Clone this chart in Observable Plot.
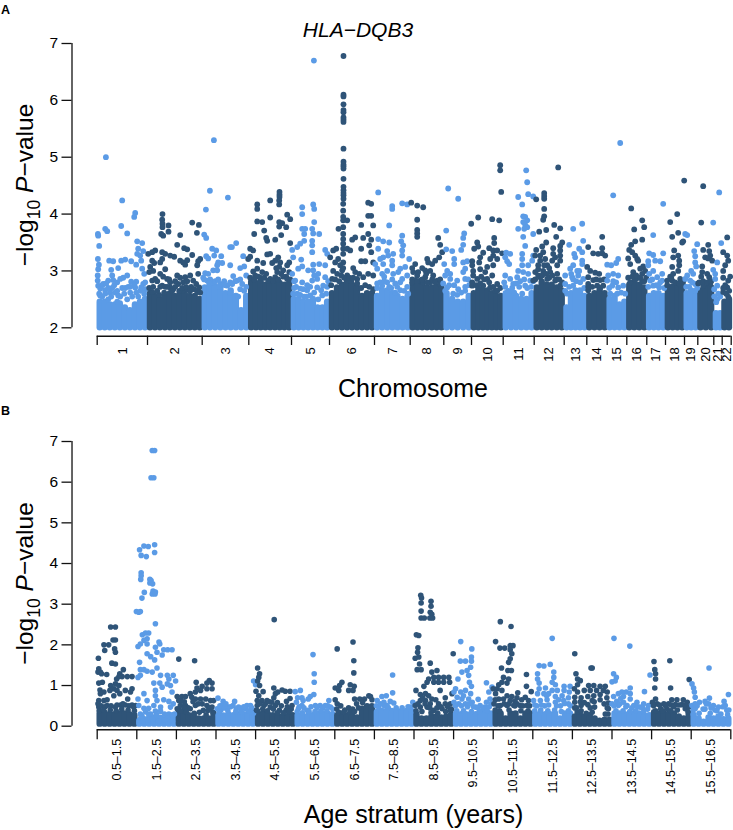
<!DOCTYPE html>
<html><head><meta charset="utf-8">
<script src="https://cdn.jsdelivr.net/npm/d3@7"></script>
<script src="https://cdn.jsdelivr.net/npm/@observablehq/plot@0.6"></script>
<style>html,body{margin:0;padding:0;background:#fff}svg{display:block}</style>
</head><body><div id="a"></div><div id="b"></div>
<script>
const LIGHT="#5b9be6", DARK="#2f5478";
const chromosomes=["1","2","3","4","5","6","7","8","9","10","11","12","13","14","15","16","17","18","19","20","21","22"];
const chromEdges=[0,50.3,105,151.6,194.3,232.3,277.3,313,346.6,374.3,406,437,467,489.6,510,529.6,549.6,568.3,587.3,600.6,616.6,625,634];
const chromBand=[
[2.45,2.45,2.4,2.4,2.42,2.35,2.3,2.4,2.45,2.5],
[2.6,2.55,2.5,2.55,2.6,2.55,2.6,2.6,2.55,2.55,2.5],
[2.7,2.75,2.72,2.7,2.6,2.65,2.55,2.3,2.55],
[2.8,2.78,2.8,2.75,2.78,2.8,2.78,2.75,2.78],
[2.5,2.5,2.45,2.45,2.5,2.35,2.35,2.45],
[2.6,2.7,2.75,2.8,2.75,2.7,2.55,2.6,2.6],
[2.55,2.65,2.65,2.6,2.55,2.5,2.55],
[2.75,2.75,2.75,2.7,2.7,2.72,2.7],
[2.6,2.5,2.45,2.45,2.55],
[2.6,2.65,2.65,2.65,2.6,2.55,2.55],
[2.6,2.6,2.55,2.5,2.5,2.6],
[2.7,2.8,2.75,2.75,2.7,2.65],
[2.35,2.6,2.65,2.65,2.55],
[2.55,2.6,2.65,2.6],
[2.5,2.55,2.4,2.45],
[2.75,2.8,2.75,2.7],
[2.55,2.6,2.6,2.55],
[2.7,2.72,2.72,2.72],
[2.6,2.65,2.6],
[2.65,2.7,2.7],
[2.25,2.25],
[2.45,2.5]];
const chr1=[[8.7,5],[.7,3.65],[1,3.62],[2,3.44],[.7,3.21],[1.7,3.11],[1,3.03],[8,3.74],[10,3.7],[12,3.18],[16,3.17],[21,3.05],[14,3.02],[15,2.92],[25,4.24],[24,3.79],[30,3.66],[38,4.02],[37,3.95],[40,3.52],[45,3.49],[41,3.39],[46,3.35],[40,3.3],[43,3.27],[34,3.17],[24,3.18],[28,3.2],[44,3.18],[39,3.11],[45,3.04],[47,2.95],[.5,2.92],[.5,2.83],[1,2.74],[6,2.77],[11,2.83],[16,2.84],[20,2.8],[26,2.88],[30,2.92],[23,2.86],[15,2.7],[13,2.62],[18,2.62],[21,2.57],[25,2.7],[28,2.7],[30,2.5],[34,2.81],[39,2.81],[38,2.71],[39,2.62],[46,2.77],[48,2.8],[44,2.71],[48,2.68],[3,2.69],[8,2.66],[3,2.57],[11,2.5],[20,2.46],[33,2.62]];
const chr2=[[65.3,4],[65,3.9],[65.3,3.83],[65.3,3.77],[71.3,3.8],[71.3,3.69],[64,3.65],[66,3.62],[83,3.63],[80,3.46],[87,3.4],[90,3.38],[95,3.85],[101.7,3.81],[99.7,3.67],[95,3.28],[103,3.21],[101,3.17],[100,3.1],[101,2.95],[51,3.3],[55,3.33],[58,3.36],[65,3.33],[68,3.3],[73,3.27],[77,3.25],[65,3.21],[63,3.15],[55,3.18],[57,3.14],[53,3.07],[52,2.98],[56,3],[68,3.03],[83,3.18],[86,3.15],[90,3.19],[88,3.11],[55,2.83],[58,2.86],[63,2.95],[66,2.9],[70,2.86],[73,2.8],[80,2.92],[83,2.88],[88,2.89],[93,2.92],[96,2.83],[99,2.77],[65,2.74],[73,2.71],[81,2.77],[86,2.8],[91,2.68],[102,2.71],[100,2.63],[55,2.63],[68,2.72],[62,2.58],[78,2.82],[76,2.68],[86,2.66],[94,2.72]];
const chr3=[[116.7,5.3],[112.7,4.41],[130.7,4.29],[108.7,4.08],[107,3.64],[109,3.58],[134.7,3.42],[139,3.49],[133,3.42],[115,3.39],[119,3.36],[109,3.26],[111,3.22],[117,3.27],[124,3.26],[121,3.15],[125,3.14],[120,3.1],[133,3.1],[143,3.05],[147,3.08],[146,3.26],[116,3.01],[120,3.01],[108,2.96],[111,2.95],[106,2.88],[136,2.91],[149,2.92],[110,2.83],[116,2.8],[123,2.77],[130,2.74],[135,2.77],[140,2.83],[145,2.77],[149,2.72],[143,2.68],[133,2.62],[141,2.55]];
const chr4=[[182.3,4.39],[182.3,4.34],[182.3,4.3],[182,4.24],[182,4.17],[173,4.24],[160,4.17],[160,4.09],[173,3.94],[190,3.99],[193,3.91],[160,3.87],[165,3.86],[182,3.86],[185,3.84],[189,3.77],[182,3.78],[167,3.71],[157,3.65],[184,3.63],[169,3.58],[170,3.53],[178,3.55],[193,3.49],[153,3.39],[156,3.36],[151,3.21],[160,3.18],[166,3.14],[170,3.29],[173,3.3],[181,3.24],[178,3.18],[175,3.14],[183,3.15],[192,3.15],[190,3.1],[182,3.07],[180,2.98],[186,3.01],[192,2.98],[160,3.04],[156,2.99],[165,2.98],[158,2.92],[163,2.88],[173,2.86],[178,2.89],[184,2.95],[189,2.9],[153,3.25],[179,3.05]];
const chr5=[[216.7,6.7],[205,4.12],[205,4],[216,4.17],[217,4.09],[217,3.86],[205,3.74],[208,3.74],[215,3.74],[207,3.65],[216,3.66],[222,3.65],[215,3.53],[207,3.53],[203,3.48],[200,3.42],[195,3.37],[215,3.45],[215,3.33],[196,3.24],[204,3.2],[228,3.37],[230,3.3],[216,3.11],[222,3.12],[228,3.1],[205,3.08],[201,3.04],[211,3.01],[216,3.01],[221,2.95],[195,2.95],[205,2.8],[198,2.83],[215,2.83],[220,2.86],[228,2.89],[197,2.7],[203,2.69],[210,2.66],[220,2.71],[226,2.74],[200,2.6],[213,2.57],[225,2.57],[207,2.55],[217,2.92],[230,2.72]];
const chr6=[[246.3,6.78],[246.3,6.1],[246.3,6.07],[246.3,5.93],[246.3,5.83],[246.3,5.79],[246.3,5.7],[246.3,5.66],[246.3,5.62],[246.3,5.15],[246.3,4.92],[246.3,4.87],[246.3,4.84],[246.3,4.8],[246.3,4.62],[246.3,4.48],[246.3,4.42],[246.3,4.37],[246.3,4.33],[246.3,4.27],[246,4.18],[246,4.06],[246,3.95],[250,3.89],[246,3.89],[246,3.77],[246,3.65],[246,3.56],[246,3.48],[246,3.39],[246,3.3],[241.3,3.74],[239,3.39],[236,3.36],[233,3.24],[241,3.21],[238,3.15],[246,3.15],[250,3.39],[253,3.36],[255,3.55],[258,3.59],[264,3.81],[264,3.39],[266,3.58],[271,3.65],[271,4.2],[271,3.97],[272,3.45],[256,3.05],[264,3.17],[268,3.17],[236,3],[235,2.86],[240,2.95],[245,3.01],[250,2.92],[260,2.86],[266,2.89],[271,2.95],[274,4.18],[274,3.97],[276,3.8],[274,3.33],[276,3.15],[276,2.92],[246,3.05],[243,3.1],[274,3.55],[258,2.98],[254,2.82]];
const chr7=[[281,4.38],[305,4.19],[310,4.17],[295,4.09],[295,4.14],[292,3.8],[305,3.62],[281,3.56],[286,3.52],[292,3.5],[304,3.52],[306,3.45],[281,3.39],[290,3.35],[305,3.36],[305,3.27],[312,3.21],[291,3.27],[296,3.3],[286,3.24],[283,3.21],[295,3.18],[278,3.12],[286,3.12],[295,3.1],[308,3.07],[303,3.04],[280,3.04],[290,3],[296,2.95],[301,2.98],[310,2.92],[285,2.95],[305,2.86],[280,2.78],[290,2.8],[298,2.78],[310,2.72],[285,2.74],[294,2.7],[303,2.66]];
const chr8=[[314,4.2],[320,4.15],[326,4.12],[320,3.9],[320,3.72],[320,3.66],[320,3.6],[341,3.58],[343,3.46],[345,3.33],[342,3.24],[338,3.18],[330,3.21],[331,3.15],[335,3.12],[318,3.12],[315,3.05],[325,3.05],[328,3.01],[333,3],[316,2.98],[320,2.92],[318,2.84],[323,2.83],[328,2.89],[336,2.92],[340,2.83],[333,2.8],[343,2.77],[315,2.85],[326,2.8]];
const chr9=[[351,4.45],[361,4.27],[349,3.71],[367,3.66],[366,3.58],[366,3.46],[349,3.38],[355,3.35],[364,3.37],[366,3.15],[357,3.21],[357,3.12],[347,3.12],[370,3.17],[350,3],[353,2.95],[348,2.92],[368,3.04],[366,2.98],[353,2.86],[360,2.83],[368,2.86],[361,2.68],[350,2.71],[368,2.72],[346,2.78],[372,2.75]];
const chr10=[[403,4.86],[403,4.77],[404,4.39],[374,3.83],[381,3.94],[395,3.91],[402,3.89],[397,3.58],[397,3.49],[380,3.5],[381,3.43],[377,3.39],[392,3.4],[396,3.36],[400,3.36],[405,3.31],[386,3.32],[383,3.24],[396,3.27],[393,3.21],[400,3.21],[375,3.17],[382,3.15],[396,3.1],[390,3.07],[375,3.1],[376,3],[383,3.03],[388,2.98],[395,2.92],[376,2.92],[380,2.86],[390,2.86],[386,2.74],[400,2.77],[375,2.74],[393,2.71],[381,2.71],[398,2.66]];
const chr11=[[429,4.77],[430,4.56],[421,4.3],[431,4.35],[436,4.31],[425,4.17],[426,3.96],[428,3.95],[430,3.89],[426,3.86],[428,3.81],[430,3.77],[421,3.74],[427,3.74],[426,3.6],[436,3.65],[428,3.44],[425,3.3],[425,3.21],[409,3.32],[413,3.3],[408,3.24],[410,3.17],[412,3.12],[436,3.27],[435,3.18],[431,3.1],[425,3.1],[408,2.92],[421,3],[426,2.98],[431,2.95],[420,2.89],[413,2.86],[416,2.77],[433,2.83],[428,2.74],[407,2.8],[422,2.72]];
const chr12=[[461,4.82],[447,4.37],[447,4.32],[447,4.27],[439,4.26],[447,4.09],[447,3.96],[446,3.9],[457,3.81],[463,3.75],[449,3.72],[442,3.69],[459,3.6],[449,3.5],[465,3.5],[463,3.44],[445,3.43],[439,3.37],[456,3.4],[463,3.36],[463,3.27],[463,3.18],[446,3.33],[438,3.27],[443,3.27],[456,3.3],[443,3.18],[448,3.21],[455,3.18],[458,3.24],[450,3.1],[441,3.1],[460,3.1],[438,2.98],[446,3],[453,2.98],[460,2.95],[436,2.83],[443,2.89],[450,2.86],[458,2.83],[463,2.74],[441,3.03],[452,3.05]];
const chr13=[[476,3.74],[485,3.83],[486,3.53],[472,3.46],[477,3.3],[482,3.39],[485,3.33],[478,3.24],[485,3.18],[485,3.12],[476,3.1],[473,3.04],[480,3],[468,2.92],[475,2.89],[481,2.92],[486,2.86],[468,2.77],[476,2.74],[470,2.6]];
const chr14=[[505,3.6],[491,3.42],[505,3.4],[496,3.31],[501,3.3],[505,3.31],[508,3.27],[490,3.07],[493,3],[498,2.97],[502,2.95],[491,2.89],[496,2.84],[503,2.84],[491,2.77],[491,2.66],[500,2.74],[506,2.74]];
const chr15=[[523,5.25],[516,4.33],[510,3.11],[514,3.1],[521,3.21],[519,3.14],[511,2.92],[516,2.95],[521,2.92],[519,2.8],[510,2.83],[515,2.74],[521,2.71],[526,2.74]];
const chr16=[[534,4.1],[545,3.89],[547,3.77],[537,3.73],[545,3.55],[538,3.52],[534,3.46],[532,3.37],[535,3.33],[538,3.27],[531,3.22],[540,3.21],[541,3.18],[533,3.12],[546,3.08],[543,3.04],[548,3],[536,2.98],[545,2.95],[541,2.88],[533,2.8],[538,2.85],[545,2.81]];
const chr17=[[566,4.18],[556,3.63],[566,3.31],[552,3.31],[556,3.28],[551,3.17],[558,3.18],[563,3.17],[551,3.1],[556,3],[552,2.95],[565,2.95],[560,2.89],[553,2.83],[565,2.83],[556,2.74],[562,2.71]];
const chr18=[[587,4.59],[580,4],[573,3.86],[581,3.67],[575,3.6],[585,3.5],[586,3.52],[577,3.36],[576,3.24],[581,3.27],[582,3.18],[582,3.1],[575,3.07],[581,3],[573,2.9],[583,2.86],[570,2.83],[575,2.83],[586,2.75]];
const chr19=[[588,3.65],[590,3.63],[600,3.47],[597,3.35],[598,3.26],[598,3.15],[599,3.08],[594,3],[590,2.92],[596,2.95],[588,2.86],[593,2.83],[598,2.77]];
const chr20=[[606,4.49],[604,3.85],[611,3.46],[606,3.37],[612,3.35],[613,3.27],[608,3.24],[611,3.22],[615,3.18],[605,3.08],[605,2.98],[610,2.95],[612,2.89],[601,2.78],[606,2.74],[613,2.77]];
const chr21=[[622,4.38],[616,3.85],[624,3.49],[620,3.15],[616,3.02],[618,2.95],[618,2.86],[620,2.74],[621,2.6],[617,2.68],[619,2.45]];
const chr22=[[630,3.59],[626,3.33],[630,3.27],[631,3.18],[628,3.1],[626,3],[626,2.88],[631,2.83],[630,2.71],[626,2.63],[631,2.55]];
const chromPoints=[chr1,chr2,chr3,chr4,chr5,chr6,chr7,chr8,chr9,chr10,chr11,chr12,chr13,chr14,chr15,chr16,chr17,chr18,chr19,chr20,chr21,chr22];
const chromFill=[
[[2,2.6],[5,2.55],[8,2.6],[11,2.7],[14,2.55],[17,2.75],[20,2.65],[23,2.55],[27,2.6],[31,2.72],[35,2.55],[37,2.75],[41,2.55],[43,2.65],[47,2.6],[5,2.75],[9,2.78],[33,2.72]],
[[52,2.7],[56,2.72],[60,2.65],[63,2.72],[67,2.62],[70,2.72],[75,2.65],[78,2.72],[82,2.65],[85,2.7],[89,2.72],[93,2.65],[97,2.68],[103,2.62],[72,2.85],[90,2.82],[60,2.82]],
[[107,2.85],[113,2.85],[118,2.82],[121,2.85],[127,2.82],[133,2.8],[138,2.82],[143,2.85],[147,2.65],[122,2.72],[128,2.75],[112,2.78]],
[[153,2.88],[157,2.85],[161,2.9],[167,2.88],[171,2.83],[176,2.82],[181,2.85],[186,2.9],[190,2.86],[193,2.85],[169,2.95]],
[[196,2.6],[199,2.72],[203,2.58],[206,2.68],[209,2.55],[213,2.72],[217,2.62],[221,2.5],[224,2.66],[229,2.6],[231,2.82],[197,2.82],[210,2.75]],
[[234,2.75],[238,2.85],[242,2.82],[247,2.88],[252,2.88],[256,2.88],[260,2.78],[264,2.7],[268,2.75],[272,2.72],[276,2.68],[244,2.92],[262,2.95]],
[[280,2.7],[283,2.8],[287,2.82],[292,2.72],[295,2.85],[300,2.72],[303,2.8],[307,2.65],[311,2.6],[298,2.62],[287,2.9]],
[[315,2.8],[320,2.82],[325,2.85],[330,2.8],[335,2.85],[338,2.8],[343,2.85],[329,2.95],[321,2.98]],
[[348,2.65],[352,2.75],[356,2.6],[360,2.58],[364,2.62],[368,2.65],[371,2.85],[357,2.75]],
[[375,2.8],[379,2.75],[383,2.78],[387,2.85],[392,2.8],[396,2.72],[400,2.65],[403,2.7],[384,2.9]],
[[408,2.72],[411,2.65],[415,2.7],[419,2.78],[423,2.82],[427,2.85],[430,2.7],[434,2.72],[417,2.62],[425,2.6],[436,2.82]],
[[438,2.85],[441,2.92],[445,2.92],[449,2.95],[452,2.88],[455,2.92],[459,2.85],[462,2.85],[465,2.8],[447,3.1]],
[[468,2.65],[472,2.72],[476,2.85],[479,2.82],[483,2.8],[487,2.7],[474,2.95],[482,3]],
[[491,2.72],[495,2.72],[499,2.85],[503,2.7],[507,2.85]],
[[512,2.7],[516,2.82],[520,2.6],[524,2.62],[528,2.6],[513,2.6]],
[[531,2.88],[535,2.9],[539,2.92],[543,2.88],[547,2.82],[549,2.88]],
[[551,2.72],[555,2.85],[559,2.75],[563,2.8],[567,2.7]],
[[570,2.75],[574,2.88],[578,2.8],[582,2.78],[586,2.82],[576,2.95]],
[[589,2.72],[592,2.72],[595,2.8],[598,2.65],[600,2.7]],
[[602,2.8],[606,2.82],[610,2.8],[614,2.82],[604,2.9]],
[[617,2.55],[620,2.5],[623,2.55]],
[[626,2.7],[629,2.6],[632,2.65],[633,2.9],[628,2.75]]];

const strata=["0.5–1.5","1.5–2.5","2.5–3.5","3.5–4.5","4.5–5.5","5.5–6.5","6.5–7.5","7.5–8.5","8.5–9.5","9.5–10.5","10.5–11.5","11.5–12.5","12.5–13.5","13.5–14.5","14.5–15.5","15.5–16.5"];
const strataEdges=[.5,1.5,2.5,3.5,4.5,5.5,6.5,7.5,8.5,9.5,10.5,11.5,12.5,13.5,14.5,15.5,16.5];
const strataBand=[
[.3,.32,.28,.28,.3,.3,.28,.26],
[.12,.16,.2,.2,.16,.16,.2,.2],
[.38,.33,.26,.26,.18,.18,.18,.3],
[.25,.25,.28,.26,.28,.28,.3,.3],
[.3,.3,.28,.26,.24,.24,.24,.26],
[.26,.24,.24,.26,.3,.3,.3,.28],
[.26,.26,.26,.24,.2,.42,.48,.48],
[.34,.36,.36,.36,.36,.36,.36,.36],
[.28,.18,.18,.23,.23,.2,.23,.28],
[.3,.28,.28,.28,.28,.3,.3,.3],
[.33,.3,.18,.3,.3,.18,.3,.3],
[.28,.3,.28,.28,.3,.18,.3,.3],
[.23,.28,.23,.26,.18,.12,.15,.15],
[.3,.3,.28,.3,.3,.3,.26,.26],
[.33,.3,.3,.3,.3,.23,.18,.3],
[.26,.18,.1,.2,.18,.23,.16,.18]];
const s1=[[.53,1.67],[.54,1.41],[.52,1.33],[.58,1.33],[.61,1.29],[.74,1.27],[.54,1.06],[.63,1.08],[.57,.89],[.67,.84],[.58,.8],[.84,2.44],[.96,2.44],[.9,2.12],[.96,2.12],[.67,2],[.79,2],[.69,1.86],[.94,1.9],[.96,1.82],[.87,1.55],[.96,1.53],[1.16,1.39],[1.07,1.29],[.99,1.16],[1.05,1.22],[1.13,1.22],[1.26,1.22],[1.38,1.22],[.96,1.04],[.84,1],[.92,.92],[.82,.88],[1,.88],[.92,.75],[1.05,1],[1.21,.88],[1.38,.92],[1.34,.84],[1.27,.67],[1.07,.8],[.54,.63],[.67,.63],[.54,.47],[.75,.51],[.96,.47],[1.09,.52],[1.21,.52],[1.38,.52],[1.47,.51]];
const s2=[[1.89,6.78],[1.95,6.78],[1.86,6.11],[1.93,6.11],[1.57,4.34],[1.68,4.43],[1.79,4.42],[1.95,4.46],[1.95,4.27],[1.61,4.2],[1.74,4.17],[1.61,3.77],[1.61,3.7],[1.6,3.61],[1.83,3.61],[1.86,3.58],[1.83,3.52],[1.9,3.5],[1.69,3.29],[1.91,3.32],[1.97,3.3],[1.89,3.25],[1.96,3.25],[1.63,3.15],[1.49,2.82],[1.59,2.82],[1.55,2.8],[1.97,2.52],[1.64,2.25],[1.72,2.29],[1.8,2.29],[1.76,2.15],[1.68,2.11],[1.59,2.02],[1.53,1.96],[1.76,2.02],[2.06,2.07],[2.08,2.02],[1.97,1.94],[2.18,1.88],[2.28,1.88],[2.39,1.88],[2.01,1.82],[1.76,1.78],[1.85,1.71],[1.95,1.63],[2.14,1.75],[1.57,1.57],[1.59,1.39],[1.68,1.39],[1.76,1.35],[1.89,1.33],[2.01,1.43],[1.53,1.2],[1.59,1.25],[2.1,1.25],[2.27,1.25],[2.42,1.25],[2.31,1.16],[2.48,1.11],[1.93,1.06],[2.08,1.06],[2.14,.96],[2.27,1.04],[2.35,1],[1.97,.88],[1.68,.8],[2.39,.84],[1.53,.67],[1.76,.63],[1.97,.75],[2.01,.63],[2.18,.65],[2.31,.61],[2.42,.55],[1.55,.51],[1.68,.44],[1.8,.44],[1.93,.51],[2.1,.47],[2.35,.47],[1.85,.3],[1.59,.3],[1.97,.37],[2.1,.37],[2.31,.3],[2.45,.3],[2.1,.22],[2.27,.22],[1.72,.35]];
const s3=[[2.56,1.65],[2.96,1.61],[3,1.08],[3.33,1.12],[3.27,1.06],[3.4,1.06],[3.02,.94],[3.15,.98],[3.27,.92],[3.4,.92],[2.98,.84],[3.11,.88],[2.85,.8],[2.89,.71],[2.98,.67],[3.11,.67],[3.24,.67],[3.36,.63],[3.44,.63],[2.52,.73],[2.64,.73],[2.73,.73],[2.56,.63],[2.6,.51],[2.73,.51],[2.98,.51],[3.27,.51],[3.4,.47],[2.52,.43],[2.85,.43],[3.18,.39],[3.3,.39],[2.7,.6]];
const s4=[[4.45,1.11],[4.5,1.02],[3.55,.69],[3.68,.61],[3.97,.61],[3.65,.51],[3.53,.43],[3.81,.47],[3.93,.51],[4.07,.47],[4.28,.51],[4.37,.51],[4.24,.43],[3.62,.39],[4.01,.43],[4.46,.39]];
const s5=[[4.97,2.62],[4.55,1.43],[4.6,1.29],[4.58,1.2],[4.55,1.11],[4.6,1],[4.51,.86],[4.69,.85],[4.96,.94],[5.17,.89],[5.06,.84],[5.25,.86],[5.37,.86],[5,.8],[4.58,.75],[4.96,.7],[5.28,.61],[5.37,.68],[4.54,.63],[4.66,.63],[4.79,.63],[4.91,.59],[4.54,.51],[4.71,.51],[4.87,.47],[5,.51],[5.42,.51],[4.52,.39],[5.1,.39],[5.27,.39]];
const s6=[[5.95,1.76],[5.98,1.29],[5.98,1.08],[5.5,.85],[5.63,.88],[5.97,.78],[5.88,.73],[5.56,.7],[5.67,.7],[5.53,.59],[5.7,.63],[5.83,.67],[6.35,.63],[6.01,.51],[6.13,.51],[6.26,.51],[6.39,.47],[5.58,.43],[5.8,.39],[5.67,.51]];
const s7=[[6.56,1.9],[6.96,2.07],[6.98,1.61],[6.98,1.31],[6.68,1.08],[6.62,1],[6.51,.94],[6.6,.88],[6.89,1.02],[6.99,.98],[6.85,.88],[6.96,.88],[6.51,.65],[6.56,.55],[7,.67],[7.13,.67],[7.25,.67],[7.36,.75],[7.4,.73],[7.44,.65]];
const s8=[[7.96,1.26],[7.96,.82],[7.69,.73],[7.8,.75],[7.57,.63],[7.74,.59],[7.9,.61],[7.99,.57],[7.61,.47],[7.82,.51],[8.47,.59],[8.41,.47]];
const s9=[[8.67,3.22],[8.69,3.15],[8.68,3.03],[8.93,3.07],[8.93,2.95],[8.68,2.83],[8.91,2.8],[8.95,2.75],[8.68,2.66],[8.76,2.66],[8.9,2.66],[8.97,2.66],[8.56,2.25],[8.62,2.23],[8.6,1.93],[8.59,1.82],[8.53,1.67],[8.62,1.7],[8.64,1.53],[8.58,1.39],[8.68,1.39],[8.91,1.55],[8.95,1.33],[9.08,1.37],[8.87,1.16],[9,1.2],[9.12,1.2],[9.25,1.2],[9.38,1.2],[9,1.08],[9.12,1.08],[9.25,1.08],[9.4,1.08],[8.83,1.08],[8.75,.98],[8.55,.88],[9.16,.88],[9.46,.8],[8.66,.78],[8.79,.8],[8.87,.75],[8.95,.67],[9.29,.7],[8.66,.63],[8.79,.63],[8.91,.55],[9.12,.55],[9.29,.55],[9.42,.55],[8.53,.51],[8.66,.47],[8.83,.47],[9,.39],[9.21,.43],[9.42,.39],[9.49,1.78]];
const s10=[[9.68,2.08],[9.96,1.9],[9.95,1.7],[9.67,1.6],[9.8,1.6],[9.95,1.6],[9.93,1.45],[9.84,1.37],[9.71,1.33],[9.88,1.25],[9.61,1.16],[9.9,1.08],[9.95,.98],[9.55,.92],[9.51,.84],[10.33,1.07],[10.12,.66],[10.47,.96],[10.39,.84],[9.68,.84],[9.8,.88],[9.93,.8],[9.59,.71],[9.71,.67],[9.88,.67],[9.51,.59],[9.63,.55],[9.8,.55],[9.97,.59],[10.17,.51],[10.33,.59],[10.42,.67],[10.06,.47],[10.29,.47]];
const s11=[[10.68,2.57],[10.95,2.45],[10.56,2.08],[10.67,1.92],[10.79,1.92],[10.93,1.98],[11,1.98],[10.93,1.88],[10.97,1.78],[10.93,1.66],[10.89,1.57],[10.71,1.43],[10.87,1.37],[10.96,1.37],[10.76,1.2],[10.89,1.16],[10.72,1.08],[10.85,1.06],[10.64,1.02],[11.34,1.27],[11.34,.98],[11.12,.82],[11.46,.85],[10.5,.92],[10.6,.92],[10.56,.8],[10.72,.88],[10.85,.75],[10.97,.73],[11.1,.7],[11.31,.71],[10.64,.67],[10.76,.67],[10.93,.63],[11.05,.61],[11.22,.65],[11.39,.63],[10.52,.55],[10.68,.51],[10.85,.51],[11.02,.51],[11.18,.51],[11.35,.51]];
const s12=[[11.99,2.16],[11.66,1.49],[11.78,1.48],[11.94,1.52],[12.03,1.33],[12.03,1.2],[11.62,1.29],[11.62,1.16],[11.66,1.06],[11.99,1.08],[12.07,1.02],[12.29,.98],[12.44,.98],[11.66,.92],[11.82,.94],[11.99,.88],[12.12,.88],[12.29,.88],[12.42,.84],[11.62,.8],[11.78,.8],[11.9,.8],[12.07,.73],[12.24,.75],[12.4,.7],[11.52,.63],[11.69,.63],[11.86,.65],[12.07,.59],[12.4,.55],[12.28,.63],[11.6,.5],[11.8,.5],[12.2,.5]];
const s13=[[12.56,1.78],[12.97,1.43],[13,1.43],[12.59,1.29],[12.63,1.16],[12.7,1.12],[12.63,1.02],[12.55,.92],[12.91,1],[13.04,1],[13.2,.98],[13.33,.98],[12.95,.88],[13.11,.88],[13.28,.88],[13.38,.84],[12.63,.84],[12.8,.88],[12.56,.71],[12.72,.7],[12.89,.73],[13.04,.75],[13.2,.78],[13.37,.7],[13,.63],[13.41,.57],[12.56,.59],[12.72,.51],[12.89,.53],[13.06,.47],[13.41,.43],[12.56,.45],[13.4,.3]];
const s14=[[13.55,2.16],[13.95,1.97],[13.54,1.29],[13.61,1.2],[13.58,1.11],[13.5,1.09],[13.96,.94],[13.86,.84],[13.75,.84],[14.32,.85],[13.66,.8],[13.54,.73],[13.79,.73],[13.96,.8],[13.96,.67],[14.13,.59],[14.3,.55],[14.42,.51],[13.62,.61],[13.79,.59],[13.5,.55],[13.66,.51],[13.88,.51],[14.05,.51],[14.21,.47],[14.46,1.26]];
const s15=[[14.56,1.59],[14.96,1.61],[14.58,1.39],[14.6,1.29],[14.6,1.16],[14.58,.94],[14.98,.94],[15.45,1.15],[14.6,.67],[14.52,.59],[15.01,.65],[15.14,.65],[15.3,.65],[15.4,.59],[14.64,.55],[14.81,.55],[14.93,.55],[15.1,.53],[15.27,.53],[14.73,.43],[14.89,.43],[15.35,.43]];
const s16=[[15.95,1.43],[15.52,1.04],[15.56,.94],[15.58,.84],[15.6,.71],[16.44,.78],[15.96,.69],[15.85,.61],[15.71,.59],[16.33,.61],[16.06,.51],[16.19,.47],[16.36,.51],[15.52,.51],[15.6,.43],[15.94,.55],[16.4,.39],[15.85,.42],[16.1,.4]];
const strataPoints=[s1,s2,s3,s4,s5,s6,s7,s8,s9,s10,s11,s12,s13,s14,s15,s16];
const strataFill=[
[[.6,.5],[.7,.48],[.85,.5],[1,.52],[1.15,.55],[1.3,.5],[1.42,.47],[.52,.55],[.75,.65],[.55,.38],[.66,.4],[.83,.4],[.98,.38],[1.12,.42],[1.28,.4],[1.44,.38]],
[[1.6,.2],[1.65,.12],[1.78,.15],[1.9,.18],[2.05,.12],[2.2,.15],[2.4,.12],[1.63,.25],[1.8,.3],[2,.28],[2.2,.3],[2.4,.28]],
[[2.62,.62],[2.8,.45],[2.92,.6],[3.05,.55],[3.15,.55],[3.35,.45],[2.7,.45],[3.42,.35],[2.6,.38],[2.75,.35],[2.95,.32],[3.08,.34],[3.25,.28]],
[[3.6,.5],[3.72,.45],[3.87,.48],[4.12,.42],[4.2,.48],[4.4,.45],[3.75,.55],[3.58,.36],[3.8,.38],[4,.36],[4.15,.34],[4.32,.38],[4.45,.32]],
[[4.6,.55],[4.75,.55],[4.85,.6],[4.95,.42],[5.15,.5],[5.3,.48],[5.4,.42],[5.05,.58],[4.55,.38],[4.68,.42],[4.8,.38],[5.05,.33],[5.2,.33],[5.35,.36]],
[[5.6,.48],[5.72,.45],[5.9,.48],[6.05,.46],[6.2,.45],[6.32,.5],[6.45,.42],[5.55,.36],[5.68,.33],[5.85,.36],[6,.36],[6.15,.38],[6.3,.38]],
[[6.55,.42],[6.65,.5],[6.75,.4],[6.85,.45],[6.95,.42],[7.05,.55],[7.2,.58],[7.1,.45],[6.6,.34],[6.72,.34],[6.88,.35],[7,.36]],
[[7.55,.5],[7.65,.55],[7.75,.5],[7.85,.45],[8.05,.45],[8.2,.45],[8.35,.48]],
[[8.6,.55],[8.72,.7],[8.78,.55],[8.9,.45],[9.08,.45],[9.18,.48],[9.35,.48],[9.05,.65],[9.45,.42],[8.55,.38],[8.7,.36],[8.93,.33],[9.1,.32],[9.3,.36]],
[[9.55,.5],[9.7,.5],[9.85,.48],[10,.48],[10.12,.45],[10.25,.42],[10.4,.48],[9.75,.75],[9.9,.55],[10.45,.55],[9.58,.38],[9.75,.38],[9.95,.36],[10.15,.36],[10.35,.38]],
[[10.55,.65],[10.62,.5],[10.78,.55],[10.9,.55],[11.1,.55],[11.25,.5],[11.42,.5],[11.05,.5],[10.55,.4],[10.66,.38],[10.9,.4],[11.2,.38],[11.38,.38]],
[[11.55,.52],[11.72,.52],[11.9,.52],[12.1,.5],[12.3,.56],[12.45,.5],[11.85,.75],[12.15,.65],[11.55,.38],[11.7,.4],[11.88,.38],[12.05,.4],[12.22,.36],[12.4,.38]],
[[12.6,.45],[12.7,.6],[12.8,.58],[12.95,.45],[13.2,.65],[13.3,.55],[13.38,.45],[13.05,.6],[12.62,.35],[12.72,.38],[12.85,.32],[13,.34],[13.33,.3]],
[[13.55,.5],[13.7,.55],[13.85,.48],[14,.45],[14.15,.48],[14.27,.46],[14.4,.42],[13.72,.68],[13.6,.38],[13.78,.38],[13.95,.36],[14.1,.38],[14.3,.36]],
[[14.55,.5],[14.7,.52],[14.85,.5],[15,.52],[15.2,.52],[15.35,.52],[15.45,.48],[15.05,.48],[14.6,.38],[14.78,.38],[14.98,.38],[15.15,.4],[15.42,.36]],
[[15.55,.4],[15.65,.5],[15.8,.42],[16,.45],[16.15,.38],[16.3,.48],[16.45,.4],[15.6,.55],[15.88,.55],[15.55,.3],[15.7,.32],[15.98,.32],[16.25,.3],[16.42,.28]]];

const font='"Liberation Sans", Helvetica, Arial, sans-serif';
function textMark(parts,x,y,size,opts={}){
  return ()=>{
    const t=d3.create("svg:text").attr("font-family",font).attr("font-size",size).attr("fill","#000")
      .attr("text-anchor",opts.anchor||"middle").attr("font-style",opts.italic?"italic":null).attr("font-weight",opts.bold?"bold":null);
    if(opts.rotate) t.attr("transform",`translate(${x},${y}) rotate(-90)`); else t.attr("x",x).attr("y",y);
    parts.forEach(p=>{
      const s=t.append("tspan").text(p.t);
      if(p.i) s.attr("font-style","italic");
      if(p.sub) s.attr("font-size",size*.72).attr("dy",size*.28);
      if(p.up) s.attr("dy",-size*.28);
    });
    return t.node();
  };
}
const yLabel=[{t:"−log"},{t:"10",sub:1},{t:" ",up:1},{t:"P",i:1},{t:"−value"}];

function panel({height,edges,names,band,points,fill,colors,xDomain,xRange,yDomain,yRange,yTicks,axisPos,yAxisX,tickLen,labelPad,labelSize,bandBase,extra,r}){
  const bandRows=[],dotRows=[];
  points.forEach((pts,k)=>{
    const c=colors[k%2], lo=edges[k], hi=edges[k+1], tops=band[k];
    tops.forEach((top,i)=>bandRows.push({x:lo+(i+.5)*(hi-lo)/tops.length,top,c}));
    pts.concat(fill[k]).forEach(([x,y])=>dotRows.push({x,y,c}));
  });
  const mids=names.map((_,i)=>(edges[i]+edges[i+1])/2), nameOf=new Map(mids.map((m,i)=>[m,names[i]]));
  return Plot.plot({
    width:733,height,marginLeft:71.5,marginRight:0,marginTop:0,marginBottom:height-yRange[0]-(axisPos),
    style:{fontFamily:font,color:"#000",background:"#fff"},
    x:{domain:xDomain,range:xRange,label:null},
    y:{domain:yDomain,range:yRange,label:null},
    color:{type:"identity"},
    marks:[
      Plot.ruleX(bandRows,{x:"x",y1:bandBase,y2:"top",stroke:"c",strokeWidth:6.4,strokeLinecap:"round"}),
      Plot.dot(dotRows,{x:"x",y:"y",fill:"c",r,stroke:"none"}),
      Plot.ruleX([yAxisX],{y1:yDomain[0],y2:yDomain[1],stroke:"#111",strokeWidth:1.3}),
      Plot.axisY(yTicks,{tickSize:10,tickPadding:4,fontSize:15.5,strokeWidth:1.3,stroke:"#111",tickFormat:"d",label:null,color:"#000"}),
      Plot.ruleY([yDomain[0]-axisPos*(yDomain[1]-yDomain[0])/(yRange[0]-yRange[1])],{x1:xDomain[0],x2:xDomain[1],stroke:"#111",strokeWidth:1.5}),
      Plot.axisX(edges,{tickSize:tickLen,strokeWidth:1.3,stroke:"#111",tickFormat:()=>"",label:null}),
      Plot.axisX(mids,{tickSize:0,tickPadding:labelPad,tickRotate:-90,fontSize:labelSize,tickFormat:d=>nameOf.get(d),label:null}),
      ...extra
    ]
  });
}

document.getElementById("a").append(panel({
  height:405,edges:chromEdges,names:chromosomes,band:chromBand,points:chromPoints,fill:chromFill,colors:[LIGHT,DARK],
  xDomain:[0,634],xRange:[96.7,730.7],yDomain:[2,7],yRange:[327.3,43],yTicks:[2,3,4,5,6,7],
  axisPos:8.4,yAxisX:-25.2,tickLen:9.3,labelPad:11,labelSize:13,bandBase:2,r:2.9,
  extra:[
    textMark([{t:"A"}],1,14,12.5,{anchor:"start",bold:1}),
    textMark([{t:"HLA−DQB3"}],358,37,21,{italic:1}),
    textMark(yLabel,33,185,24.5,{rotate:1}),
    textMark([{t:"Chromosome"}],413,397,25)
  ]
}));
document.getElementById("b").append(panel({
  height:425,edges:strataEdges,names:strata,band:strataBand,points:strataPoints,fill:strataFill,colors:[DARK,LIGHT],
  xDomain:[.5,16.5],xRange:[96.7,730.3],yDomain:[0,7],yRange:[320.7,36],yTicks:[0,1,2,3,4,5,6,7],
  axisPos:3.6,yAxisX:-.136,tickLen:10,labelPad:9,labelSize:12.5,bandBase:.05,r:2.8,
  extra:[
    textMark([{t:"B"}],1,10,12.5,{anchor:"start",bold:1}),
    textMark(yLabel,33,178.5,24.5,{rotate:1}),
    textMark([{t:"Age stratum (years)"}],413.5,418,25)
  ]
}));
</script></body></html>
